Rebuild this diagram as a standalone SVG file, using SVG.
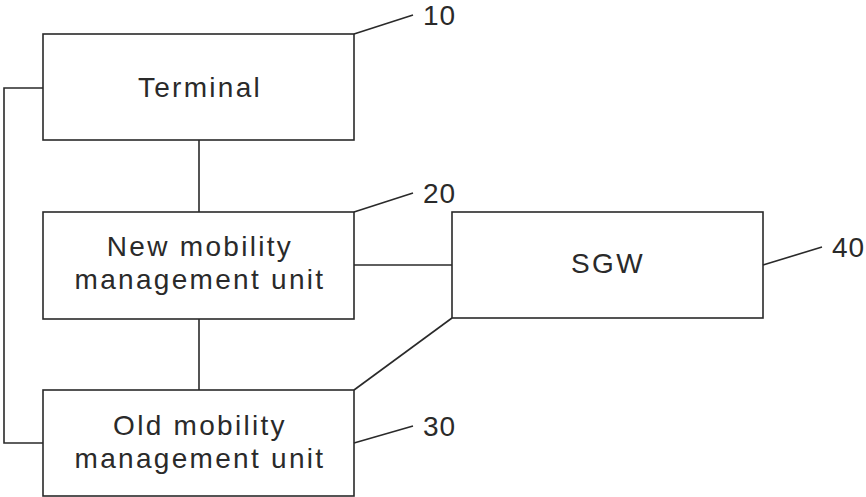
<svg xmlns="http://www.w3.org/2000/svg" width="866" height="497" viewBox="0 0 866 497">
<style>
.box{fill:#fff;stroke:#2a2a2a;stroke-width:1.6}
.ln{fill:none;stroke:#2a2a2a;stroke-width:1.6}
.t{font-family:"Liberation Sans",Arial,sans-serif;font-size:28px;fill:#2a2a2a;letter-spacing:2.3px;text-anchor:middle}
.n{font-family:"Liberation Sans",Arial,sans-serif;font-size:28px;fill:#2a2a2a;letter-spacing:1px}
</style>
<rect width="866" height="497" fill="#fff"/>
<g id="connectors">
<polyline class="ln" points="43,88 4,88 4,443 43,443"/>
<line class="ln" x1="199" y1="140" x2="199" y2="212"/>
<line class="ln" x1="199" y1="319" x2="199" y2="390"/>
<line class="ln" x1="354" y1="265" x2="452" y2="265"/>
<line class="ln" x1="452" y1="318" x2="354" y2="390"/>
</g>
<g id="terminal">
<rect class="box" x="43" y="34" width="311" height="106"/>
<text class="t" x="200" y="97">Terminal</text>
<line class="ln" x1="354" y1="34" x2="413" y2="15"/>
<text class="n" x="423" y="25">10</text>
</g>
<g id="new-mmu">
<rect class="box" x="43" y="212" width="311" height="107"/>
<text class="t" x="200" y="256">New mobility</text>
<text class="t" x="200" y="289">management unit</text>
<line class="ln" x1="354" y1="212" x2="413" y2="193"/>
<text class="n" x="423" y="203">20</text>
</g>
<g id="sgw">
<rect class="box" x="452" y="212" width="311" height="106"/>
<text class="t" x="608" y="273">SGW</text>
<line class="ln" x1="763" y1="265" x2="822" y2="247"/>
<text class="n" x="832" y="257">40</text>
</g>
<g id="old-mmu">
<rect class="box" x="43" y="390" width="311" height="106"/>
<text class="t" x="200" y="435">Old mobility</text>
<text class="t" x="200" y="468">management unit</text>
<line class="ln" x1="354" y1="443" x2="413" y2="426"/>
<text class="n" x="423" y="436">30</text>
</g>
</svg>
